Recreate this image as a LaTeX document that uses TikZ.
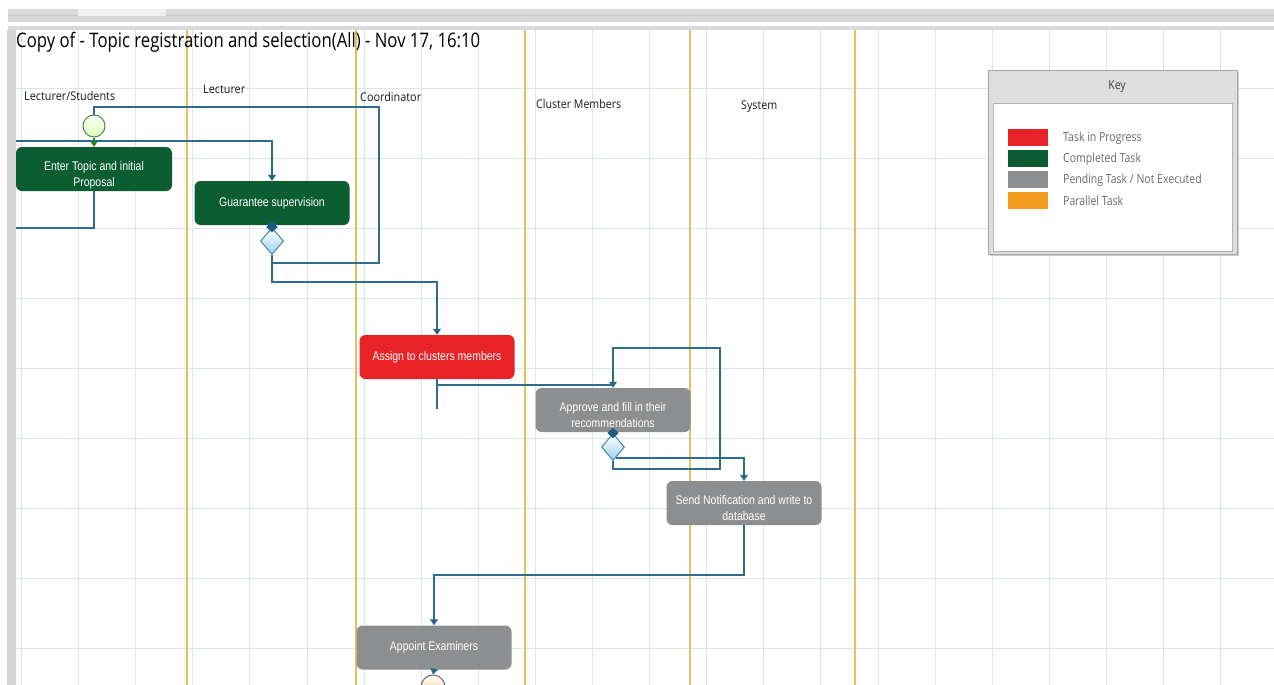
\documentclass[tikz,border=0pt]{standalone}
\usepackage{fontspec}
\usepackage{graphicx}
\usetikzlibrary{arrows.meta,shapes.geometric,calc}
\newfontfamily\uifont{Open Sans}
\newfontfamily\taskfont[FakeStretch=0.84]{Liberation Sans}
\newfontfamily\keyfont[FakeStretch=0.84]{Open Sans}
\newcommand{\fitw}[2]{\resizebox{#1}{\height}{#2}}
% two-line task caption, set a little below the box centre
\newcommand{\twol}[2]{\raisebox{-6pt}[\height][\depth]{\begin{tabular}{@{}c@{}}#1\\#2\end{tabular}}}

\definecolor{cgreen}{HTML}{0C5E32}
\definecolor{cred}{HTML}{E82226}
\definecolor{cgray}{HTML}{8D8E90}
\definecolor{corange}{HTML}{F39C1F}
\definecolor{cline}{HTML}{2C6C8C}
\definecolor{ctip}{HTML}{1B5A82}
\definecolor{gridc}{HTML}{DCE5EE}
\definecolor{lanec}{HTML}{E3C05E}
\definecolor{dline}{HTML}{3F88AD}
\definecolor{dfill}{HTML}{9FD3EE}
\definecolor{barc}{HTML}{D9D9D9}
\definecolor{keytext}{HTML}{6A6A6A}

\begin{document}
\begin{tikzpicture}[x=1pt,y=-1pt,
  gridline/.style={draw=gridc, line width=0.9pt},
  laneline/.style={draw=lanec, line width=1.6pt},
  wire/.style={draw=cline, line width=1.3pt},
  flow/.style={wire, -{Triangle[width=8pt,length=6pt,fill=ctip]}},
  task/.style={rounded corners=6pt, minimum width=155pt, minimum height=44pt,
    align=center, text=white, inner sep=2pt,
    font=\taskfont\fontsize{12.5}{16.5}\selectfont},
  decision/.style={diamond, draw=dline, line width=1pt, top color=white,
    bottom color=dfill, minimum width=23pt, minimum height=27pt, inner sep=0pt},
  marker/.style={diamond, fill=ctip, minimum width=12pt, minimum height=11pt, inner sep=0pt},
  lanelabel/.style={anchor=west, inner sep=0pt, text=black!90, font=\uifont\fontsize{12}{14}\selectfont},
  swatch/.style={minimum width=40pt, minimum height=17pt, inner sep=0pt},
  keylabel/.style={anchor=west, inner sep=0pt, text=keytext,
    font=\keyfont\fontsize{12.5}{15}\selectfont}]

\useasboundingbox (0,0) rectangle (1274,685);
\fill[white] (0,0) rectangle (1274,685);

% window chrome along the top and left
\fill[barc] (8,9) rectangle (1274,22);
\fill[black!22] (8,15) rectangle (1274,16);
\fill[black!6] (78,9) rectangle (166,16);
\fill[barc] (8,26) rectangle (1274,30);
\fill[black!17] (7,30) rectangle (16,685);

% canvas grid
\foreach \k in {0,...,22} {
  \draw[gridline] ({21.5+57.1*\k},30) -- ({21.5+57.1*\k},685);
}
\foreach \yy in {88,158,...,648} {
  \draw[gridline] (16,\yy) -- (1274,\yy);
}

% swimlane separators
\foreach \xx in {187,356,525,690,855} {
  \draw[laneline] (\xx,30) -- (\xx,685);
}

% title and lane headings
\node[anchor=west, inner sep=0pt, font=\uifont\fontsize{20}{22}\selectfont] (title) at (16,42)
  {\fitw{464pt}{Copy of - Topic registration and selection(All) - Nov 17, 16:10}};
\node[lanelabel] (lane1) at (24,96) {\fitw{91pt}{Lecturer/Students}};
\node[lanelabel] (lane2) at (203,89) {\fitw{42pt}{Lecturer}};
\node[lanelabel] (lane3) at (360,97) {\fitw{61pt}{Coordinator}};
\node[lanelabel] (lane4) at (536,104) {\fitw{85pt}{Cluster Members}};
\node[lanelabel] (lane5) at (741,107) {\fitw{36pt}{System}};

% activity nodes
\node[circle, draw=black!45!green!40!gray, line width=1pt, top color=white,
  bottom color=green!25!lime!30, minimum size=22pt, inner sep=0pt] (start) at (94,126) {};
\node[task, fill=cgreen, minimum width=156pt] (enter) at (94,169) {\twol{Enter Topic and initial}{Proposal}};
\node[task, fill=cgreen] (guar) at (272,203) {Guarantee supervision};
\node[decision] (d1) at (272,241) {};
\node[task, fill=cred] (assign) at (437,357) {Assign to clusters members};
\node[task, fill=cgray] (approve) at (613,410) {\twol{Approve and fill in their}{recommendations}};
\node[decision] (d2) at (613,447) {};
\node[task, fill=cgray] (send) at (744,503) {\twol{Send Notification and write to}{database}};
\node[task, fill=cgray] (appoint) at (434,647.5) {Appoint Examiners};
\node[circle, draw=black!40!blue!20!gray, line width=1pt, top color=white,
  bottom color=corange!60, minimum size=24pt, inner sep=0pt] (endc) at (433,687) {};

% loose ends leaving the visible canvas
\coordinate (inL) at (16,141);
\coordinate (outL) at (16,228);
\coordinate (jA) at (613,385);

% connectors
\draw[wire, -{Triangle[width=8pt,length=6pt]}, draw=green!45!black!80!lime] (start.south) -- (enter.north);
\draw[flow] (inL) -| (guar.north);
\draw[wire] (enter.south) |- (outL);
\draw[wire] (guar.south) -- (d1.north) node[marker, pos=1] (m1) {};
\draw[flow] (d1.south) -- (272,282) -| (assign.north);
\draw[wire] (d1.south) -- (272,263) -- (379,263) -- (379,107) -- (94,107) -- (start.north);
\draw[wire] (assign.south) -- (437,409);
\draw[wire] (437,385) -- (jA);
\draw[flow] (d2.south) -- (613,469) -- (720,469) -- (720,348) -- (613,348) -- (approve.north);
\draw[wire] (approve.south) -- (d2.north) node[marker, pos=1] (m2) {};
\draw[flow] ($(d2.south)!0.22!(d2.east)$) -| (send.north);
\draw[flow] (send.south) -- (744,575) -| (appoint.north);
\draw[flow] (appoint.south) -- (endc.north);

% legend
\fill[black!20] (990,72) rectangle (1239,256);
\draw[black!35, fill=black!13] (988,70) rectangle (1237,254);
\draw[black!30, fill=white] (993,103) rectangle (1232,251);
\node[inner sep=0pt, text=black!75, font=\keyfont\fontsize{12.5}{15}\selectfont] (keyhead) at (1117,87) {Key};
\node[swatch, fill=cred] (sw1) at (1028,137) {};
\node[swatch, fill=cgreen] (sw2) at (1028,158.5) {};
\node[swatch, fill=cgray] (sw3) at (1028,179.5) {};
\node[swatch, fill=corange] (sw4) at (1028,200.5) {};
\node[keylabel] (k1) at (1063,138) {Task in Progress};
\node[keylabel] (k2) at (1063,159) {Completed Task};
\node[keylabel] (k3) at (1063,180) {Pending Task / Not Executed};
\node[keylabel] (k4) at (1063,201) {Parallel Task};
\end{tikzpicture}
\end{document}
